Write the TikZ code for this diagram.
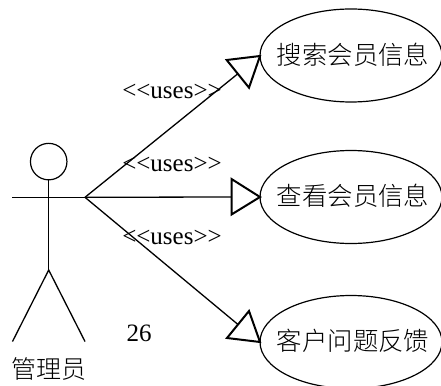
\documentclass[tikz,border=0pt]{standalone}
\usepackage{fontspec}
\setmainfont{Liberation Serif}
\newfontfamily\cjk{Noto Sans CJK SC Light}
\usetikzlibrary{shapes.geometric}
\tikzset{
  usecase/.style={ellipse,draw=black,line width=1.2pt,minimum width=182pt,minimum height=93pt,inner sep=0pt},
  cjktext/.style={font=\fontsize{25.4}{25.4}\selectfont\cjk,inner sep=0pt},
  assoc/.style={draw=black,line width=1.3pt},
  hollowtip/.style={draw=black,fill=white,line width=2pt,line join=miter},
  stereo/.style={font=\fontsize{25}{25}\selectfont,inner sep=0pt},
  limb/.style={draw=black,line width=1.3pt},
}
\begin{document}
\begin{tikzpicture}[x=1pt,y=-1pt]
\useasboundingbox (0,0) rectangle (441,385);
\begin{scope}
\clip (0,0) rectangle (441,385);
\node[usecase] (uc1) at (351,55.5) {};
\node[usecase] (uc2) at (351,197) {};
\node[usecase] (uc3) at (351,342) {};
\end{scope}
\node[cjktext] (t1text) at (353,54.5) {搜索会员信息};
\node[cjktext] (t2text) at (353,196) {查看会员信息};
\node[cjktext] (t3text) at (353,341) {客户问题反馈};
% actor
\node[circle,draw=black,line width=1.2pt,minimum size=36.5pt,inner sep=0pt] (head) at (48.7,161.6) {};
\coordinate (hip) at (48.7,270);
\coordinate (armL) at (12,197.3);
\coordinate (hub) at (85,197.3);
\coordinate (footL) at (12.5,341.5);
\coordinate (footR) at (85,341.5);
\draw[limb] (head.south) -- (hip);
\draw[limb] (armL) -- (hub);
\draw[limb] (footL) -- (hip) -- (footR);
% connectors
\coordinate (b1a) at (226.7,60);
\coordinate (b1b) at (249,87.7);
\coordinate (b2a) at (231.5,179);
\coordinate (b2b) at (231.5,214.5);
\coordinate (b3a) at (249,311);
\coordinate (b3b) at (227,338);
\coordinate (m1) at (237.8,73.8);
\coordinate (m2) at (231.5,197);
\coordinate (m3) at (238,324.5);
\draw[assoc] (hub) -- (m1);
\draw[assoc] (hub) -- (m2);
\draw[assoc] (hub) -- (m3);
\coordinate (t1) at (260,56);
\coordinate (t2) at (260,197);
\coordinate (t3) at (260,342);
\draw[hollowtip] (t1) -- (b1a) -- (b1b) -- cycle;
\draw[hollowtip] (t2) -- (b2a) -- (b2b) -- cycle;
\draw[hollowtip] (t3) -- (b3a) -- (b3b) -- cycle;
% labels
\node[stereo] (l1) at (172,91) {<{}<uses>{}>};
\node[stereo] (l2) at (172,164) {<{}<uses>{}>};
\node[stereo] (l3) at (172,237) {<{}<uses>{}>};
\node[stereo] (num) at (139,333) {26};
\node[font=\fontsize{25}{25}\selectfont\cjk,inner sep=0pt] (actorname) at (48.7,368.5) {管理员};
\end{tikzpicture}
\end{document}
